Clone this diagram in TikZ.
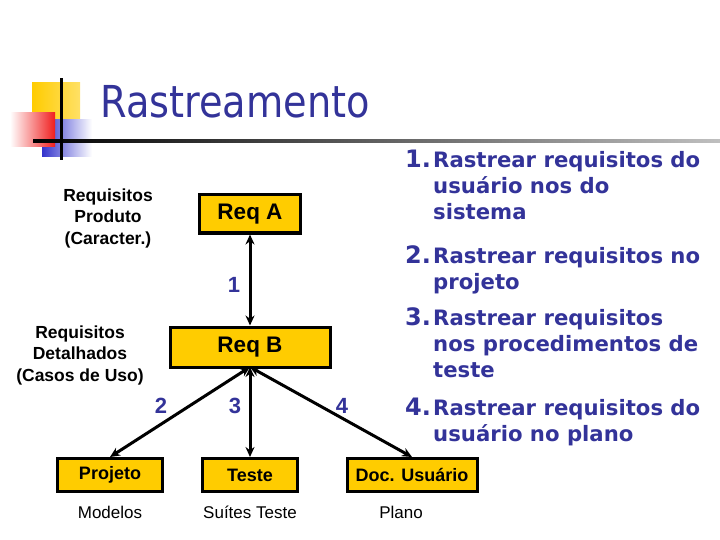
\documentclass[tikz,border=0pt]{standalone}
\usepackage{fontspec}
\setmainfont{Liberation Sans}
\newfontfamily\dejavu{DejaVu Sans}
\usetikzlibrary{arrows.meta}
\definecolor{navy}{RGB}{51,51,153}
\definecolor{gold}{RGB}{255,204,0}
\definecolor{logoblue}{RGB}{51,51,204}
\definecolor{logored}{RGB}{240,30,30}
\tikzset{
  box/.style={draw=black, line width=3pt, fill=gold, inner sep=0pt, font=\bfseries\fontsize{22.5}{24}\selectfont},
  smallbox/.style={box, minimum height=33pt, font=\bfseries\fontsize{18}{20}\selectfont},
  conn/.style={line width=3pt, {Stealth[length=10pt,width=9pt]}-{Stealth[length=10pt,width=9pt]}},
  lvl/.style={align=center, font=\bfseries\fontsize{17.5}{21.5}\selectfont},
  num/.style={text=navy, font=\bfseries\fontsize{22}{24}\selectfont},
  under/.style={font=\fontsize{17}{18}\selectfont},
  item/.style={anchor=base west, inner sep=0pt, text=navy, font=\dejavu\bfseries\fontsize{21.2}{24}\selectfont},
  itemnum/.style={anchor=base west, inner sep=0pt, text=navy, font=\dejavu\bfseries\fontsize{24}{26}\selectfont}
}
\begin{document}
\begin{tikzpicture}[x=1pt,y=-1pt]
\useasboundingbox (0,0) rectangle (720,540);
% logo
\shade[left color=gold, right color=gold!60!white] (32,83) rectangle (80,120);
\shade[left color=logoblue, right color=white] (42,120) rectangle (92,157);
\shade[left color=white, right color=logored] (10,113) rectangle (55,147);
\shade[left color=black, right color=black!25] (33,140) rectangle (720,143);
\fill[black] (60,78) rectangle (62.5,160);
% title
\node[anchor=base west, inner sep=0pt, text=navy] (title) at (100,118)
  {\scalebox{0.87}[1]{\dejavu\fontsize{44}{48}\selectfont Rastreamento}};
% boxes
\node[box, minimum width=101pt, minimum height=38pt] (reqa) at (250,214) {Req A};
\node[box, minimum width=160pt, minimum height=40pt] (reqb) at (250,347) {Req B};
\node[smallbox, minimum width=105pt] (proj) at (110,475) {Projeto};
\node[smallbox, minimum width=95pt] (teste) at (250,475) {Teste};
\node[smallbox, minimum width=130pt] (doc) at (412,475) {Doc. Usuário};
% connectors
\coordinate (bb) at (250,367);
\draw[conn] (reqa.south) -- (reqb.north);
\draw[conn] (bb) -- (proj.north);
\draw[conn] (bb) -- (teste.north);
\draw[conn] (bb) -- (doc.north);
% numbers
\node[num] (n1) at (234,285) {1};
\node[num] (n2) at (161,406) {2};
\node[num] (n3) at (235,406) {3};
\node[num] (n4) at (342,406) {4};
% level labels
\node[lvl] (lvla) at (108,218) {Requisitos\\Produto\\(Caracter.)};
\node[lvl] (lvlb) at (80,355) {Requisitos\\Detalhados\\(Casos de Uso)};
% under labels
\node[under] (u1) at (110,512) {Modelos};
\node[under] (u2) at (250,512) {Suítes Teste};
\node[under] (u3) at (401,512) {Plano};
% list
\node[itemnum] (i1) at (405,168) {1.};
\node[item] (l1a) at (433,168) {Rastrear requisitos do};
\node[item] (l1b) at (433,194) {usuário nos do};
\node[item] (l1c) at (433,220) {sistema};
\node[itemnum] (i2) at (405,263) {2.};
\node[item] (l2a) at (433,263) {Rastrear requisitos no};
\node[item] (l2b) at (433,289) {projeto};
\node[itemnum] (i3) at (405,325) {3.};
\node[item] (l3a) at (433,325) {Rastrear requisitos};
\node[item] (l3b) at (433,351) {nos procedimentos de};
\node[item] (l3c) at (433,377) {teste};
\node[itemnum] (i4) at (405,415) {4.};
\node[item] (l4a) at (433,415) {Rastrear requisitos do};
\node[item] (l4b) at (433,441) {usuário no plano};
\end{tikzpicture}
\end{document}
